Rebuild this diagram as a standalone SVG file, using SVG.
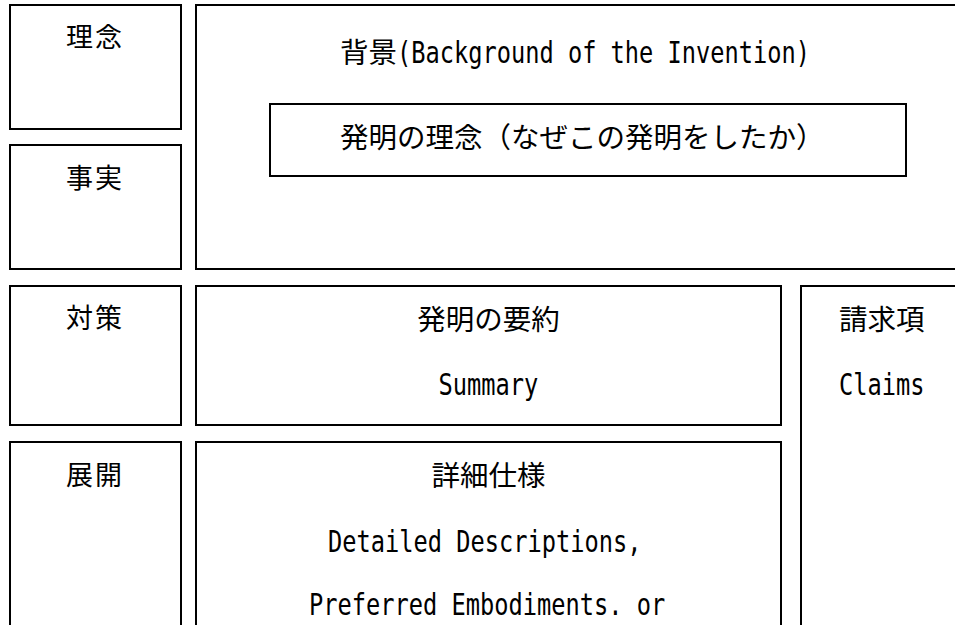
<svg xmlns="http://www.w3.org/2000/svg" width="955" height="625" viewBox="0 0 955 625">
<style>
.box{fill:#fff;stroke:#000;stroke-width:2}
.jp{font-family:"Noto Sans CJK JP","Noto Sans CJK SC",sans-serif;fill:#000}
.side{font-size:27px;letter-spacing:2px}
.main{font-size:28.5px}
.en{font-family:"DejaVu Sans Mono","Liberation Mono",monospace;font-size:29.5px;fill:#000}
</style>
<rect width="955" height="625" fill="#fff"/>
<g id="rinen">
<rect class="box" x="10" y="5" width="171" height="124"/>
<text class="jp side" x="66" y="47">理念</text>
</g>
<g id="jijitsu">
<rect class="box" x="10" y="145" width="171" height="124"/>
<text class="jp side" x="66" y="188">事実</text>
</g>
<g id="taisaku">
<rect class="box" x="10" y="286" width="171" height="139"/>
<text class="jp side" x="66" y="328">対策</text>
</g>
<g id="tenkai">
<rect class="box" x="10" y="442" width="171" height="200"/>
<text class="jp side" x="66" y="485">展開</text>
</g>
<g id="background">
<rect class="box" x="196" y="5" width="770" height="264"/>
<text class="jp main" x="340" y="63">背景</text>
<text class="en" x="397" y="63" textLength="413" lengthAdjust="spacingAndGlyphs">(Background of the Invention)</text>
</g>
<g id="concept">
<rect class="box" x="270" y="104" width="636" height="72"/>
<text class="jp main" x="340" y="148">発明の理念（なぜこの発明をしたか）</text>
</g>
<g id="summary">
<rect class="box" x="196" y="286" width="585" height="139"/>
<text class="jp main" x="488.5" y="330" text-anchor="middle">発明の要約</text>
<text class="en" x="438.5" y="395" textLength="99.75" lengthAdjust="spacingAndGlyphs">Summary</text>
</g>
<g id="detailed">
<rect class="box" x="196" y="442" width="585" height="200"/>
<text class="jp main" x="488.5" y="486" text-anchor="middle">詳細仕様</text>
<text class="en" x="328" y="552" textLength="313.5" lengthAdjust="spacingAndGlyphs">Detailed Descriptions,</text>
<text class="en" x="309" y="615" textLength="356.25" lengthAdjust="spacingAndGlyphs">Preferred Embodiments. or</text>
</g>
<g id="claims">
<rect class="box" x="801" y="286" width="170" height="360"/>
<text class="jp main" x="839" y="330">請求項</text>
<text class="en" x="839" y="395" textLength="85.5" lengthAdjust="spacingAndGlyphs">Claims</text>
</g>
<g id="connectors"/>
</svg>
